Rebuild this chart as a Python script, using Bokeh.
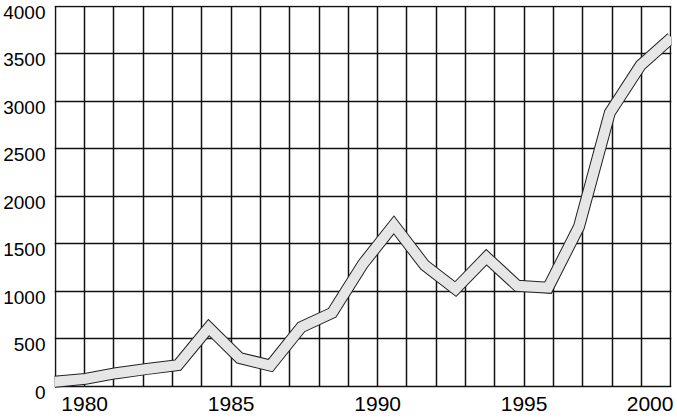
from bokeh.plotting import figure
from bokeh.models import Range1d, LinearAxis, FixedTicker, Grid, ColumnDataSource
from bokeh.embed import file_html
from bokeh.resources import INLINE

# data
years = list(range(1980, 2001))
values = [50, 80, 140, 185, 225, 620, 300, 220, 625, 775, 1290, 1700, 1275,
          1025, 1360, 1060, 1040, 1680, 2880, 3380, 3670]
y_ticks = [0, 500, 1000, 1500, 2000, 2500, 3000, 3500, 4000]
x_label_ticks = [1980, 1985, 1990, 1995, 2000]
grid_years = list(range(1979, 2001))

FONT = "Liberation Sans"
Y_LABEL_SHIFT = 63      # y labels sit just below their grid line (data units)
Y_PAD = 8               # keeps the top grid line inside the frame
X_PAD = 0.03            # keeps the edge grid lines inside the frame
LAST_LABEL_SHIFT = 0.7  # last x label pulled inside the frame (years)
GRID_COLOR = "#111111"

y_start = y_ticks[0] - Y_LABEL_SHIFT
y_end = y_ticks[-1] + Y_PAD

p = figure(width=677, height=420, output_backend="svg", toolbar_location=None,
           x_range=Range1d(years[0], years[-1]),
           y_range=Range1d(y_start, y_end),
           x_axis_type=None, y_axis_type=None,
           min_border_left=52, min_border_right=6, min_border_top=5, min_border_bottom=28)
p.extra_x_ranges = {"grid": Range1d(grid_years[0] - X_PAD, grid_years[-1] + X_PAD)}
p.extra_y_ranges = {"ylab": Range1d(y_start + Y_LABEL_SHIFT, y_end + Y_LABEL_SHIFT)}
p.grid.visible = False
p.outline_line_color = None
p.background_fill_color = "white"
p.border_fill_color = "white"

# y axis (labels top-aligned to grid lines)
yax = LinearAxis(y_range_name="ylab", ticker=FixedTicker(ticks=y_ticks))
yax.axis_line_color = None
yax.major_tick_line_color = None
yax.minor_tick_line_color = None
yax.major_tick_out = 0
yax.major_tick_in = 0
yax.major_label_standoff = 9
yax.major_label_text_font = FONT
yax.major_label_text_font_size = "19px"
yax.major_label_text_color = "black"
p.add_layout(yax, "left")

# x axis on the grid range
last_pos = x_label_ticks[-1] - LAST_LABEL_SHIFT
xax = LinearAxis(x_range_name="grid",
                 ticker=FixedTicker(ticks=x_label_ticks[:-1] + [last_pos]),
                 major_label_overrides={last_pos: str(x_label_ticks[-1])})
xax.axis_line_color = None
xax.major_tick_line_color = None
xax.minor_tick_line_color = None
xax.major_tick_out = 0
xax.major_tick_in = 0
xax.major_label_standoff = 4
xax.major_label_text_font = FONT
xax.major_label_text_font_size = "21px"
xax.major_label_text_color = "black"
p.add_layout(xax, "below")

# grids (they also form the frame)
vg = Grid(dimension=0, ticker=FixedTicker(ticks=grid_years), x_range_name="grid",
          cross_bounds=(y_ticks[0], y_ticks[-1]),
          grid_line_color=GRID_COLOR, grid_line_width=1.5)
hg = Grid(dimension=1, ticker=FixedTicker(ticks=y_ticks),
          grid_line_color=GRID_COLOR, grid_line_width=1.5)
p.add_layout(vg)
p.add_layout(hg)

src = ColumnDataSource(dict(x=years, y=values))
p.line("x", "y", source=src, line_color="#222222", line_width=12, line_join="miter")
p.line("x", "y", source=src, line_color="#e6e6e6", line_width=10, line_join="miter")

open("out.html", "w").write(file_html(p, INLINE))
